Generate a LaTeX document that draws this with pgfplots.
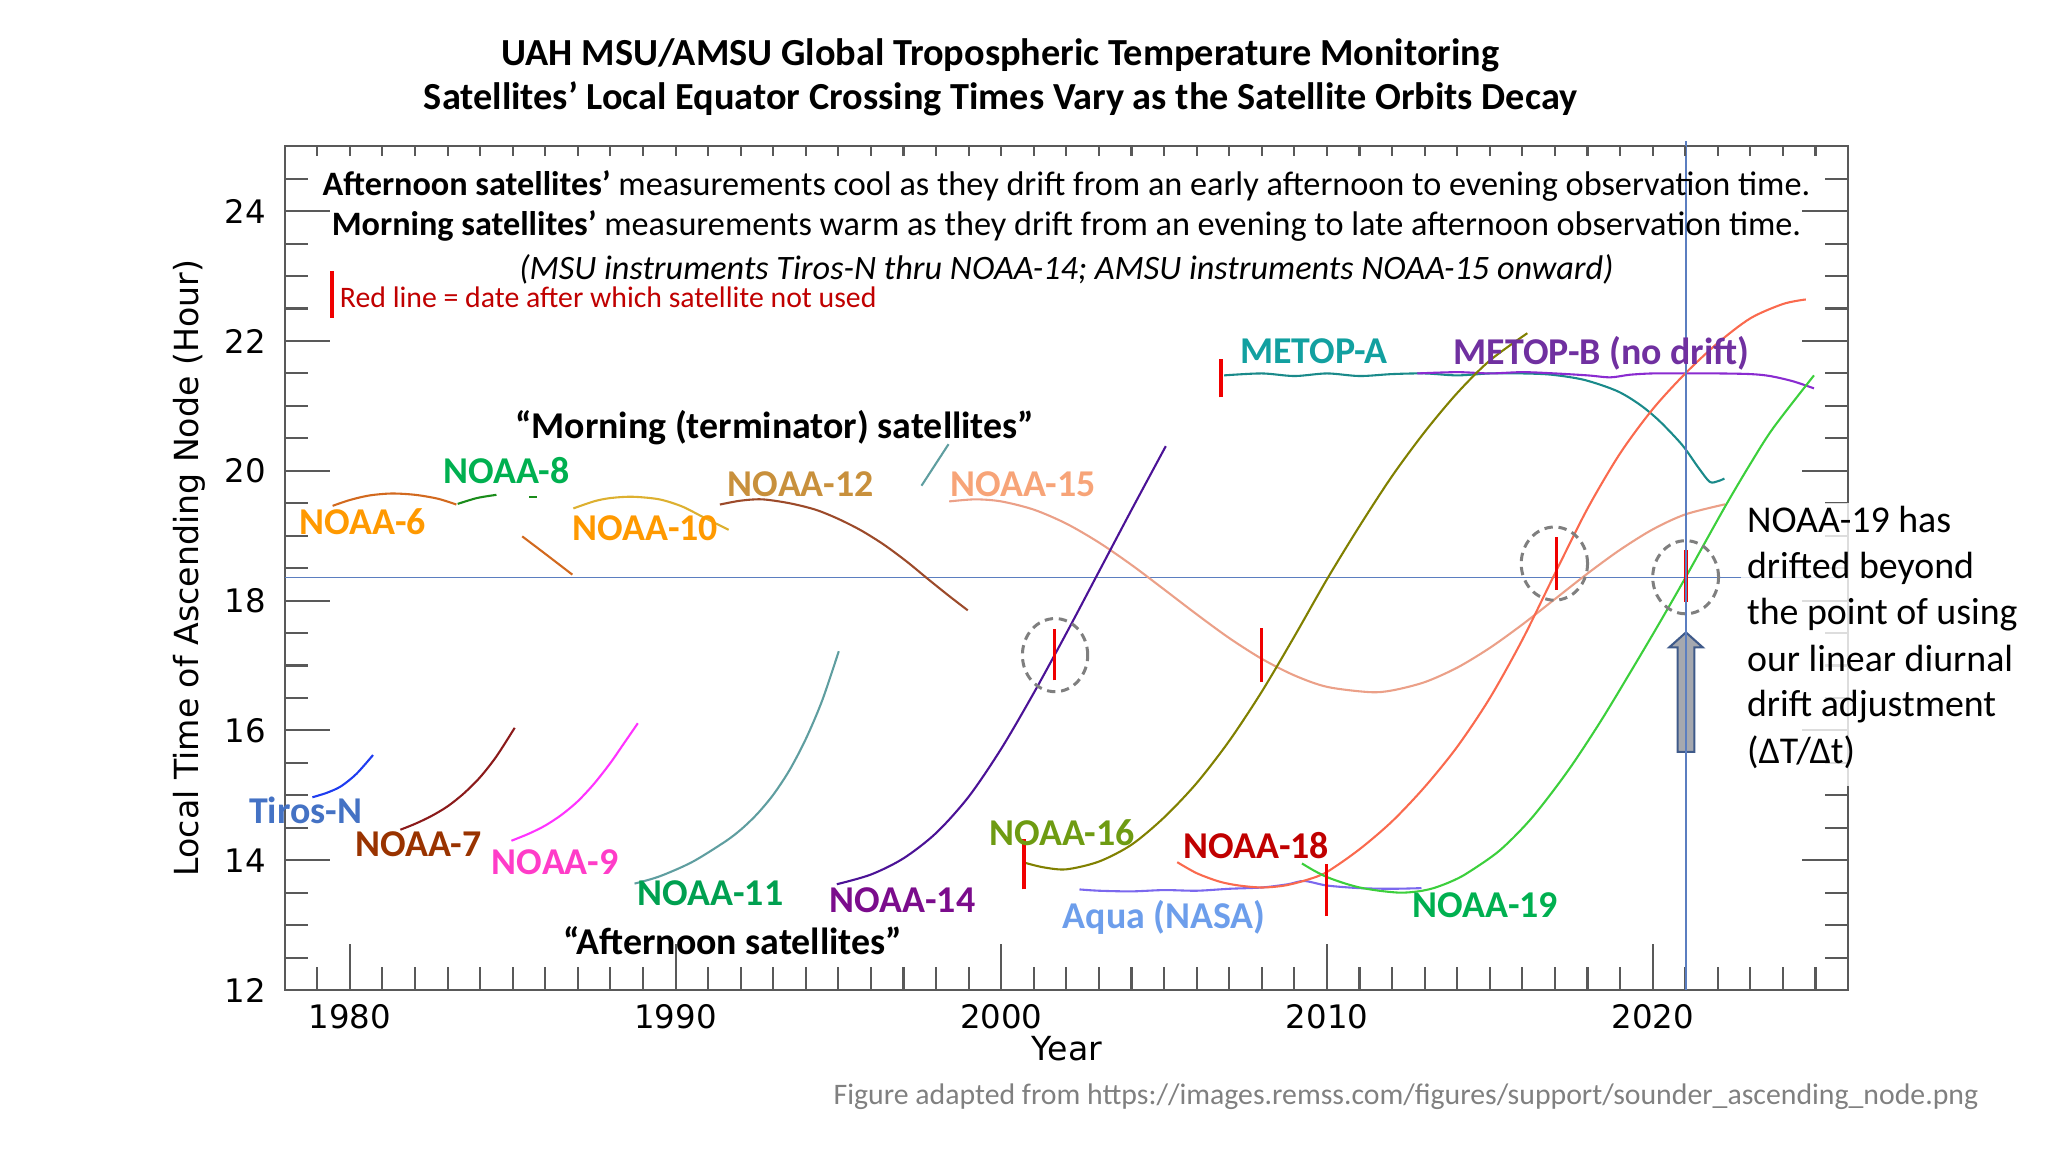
\documentclass[border=0pt]{standalone}
\usepackage{pgfplots}
\pgfplotsset{compat=1.18}
\usepackage{fontspec}
\setmainfont{Carlito}
\newfontfamily\dejavu{DejaVu Sans}
\definecolor{axisgray}{HTML}{595959}
\definecolor{refblue}{HTML}{5B7EC0}
\definecolor{tickred}{HTML}{F00000}
\definecolor{circgray}{HTML}{7F7F7F}
\definecolor{arrowfill}{HTML}{A5A8AF}
\definecolor{arrowline}{HTML}{3F5A8A}
\definecolor{cTiros}{HTML}{1E3CF0}\definecolor{lTiros}{HTML}{4472C4}
\definecolor{c7}{HTML}{8B1A1A}\definecolor{l7}{HTML}{993300}
\definecolor{c9}{HTML}{FF33FF}\definecolor{l9}{HTML}{FF3CC8}
\definecolor{c11}{HTML}{5F9EA0}\definecolor{l11}{HTML}{00A050}
\definecolor{c14}{HTML}{4B1296}\definecolor{l14}{HTML}{7B0C8C}
\definecolor{c16}{HTML}{808000}\definecolor{l16}{HTML}{6E9B12}
\definecolor{c18}{HTML}{FA6A4E}\definecolor{l18}{HTML}{C00000}
\definecolor{c19}{HTML}{3CCF3C}\definecolor{l19}{HTML}{00B050}
\definecolor{c15}{HTML}{EBA088}\definecolor{l15}{HTML}{F7A478}
\definecolor{c6}{HTML}{D2691E}\definecolor{l6}{HTML}{FF9900}
\definecolor{c8}{HTML}{1A8C1A}\definecolor{l8}{HTML}{00B050}
\definecolor{c10}{HTML}{DDB030}\definecolor{l10}{HTML}{FF9900}
\definecolor{c12}{HTML}{9C4A2A}\definecolor{l12}{HTML}{C8903C}
\definecolor{cMA}{HTML}{1A8A8A}\definecolor{lMA}{HTML}{12A0A0}
\definecolor{cMB}{HTML}{8A2BD0}\definecolor{lMB}{HTML}{7030A0}
\definecolor{cAqua}{HTML}{7B68EE}\definecolor{lAqua}{HTML}{6D9EEB}
\definecolor{darkred}{HTML}{C00000}
\definecolor{srcgray}{HTML}{808080}
\newcommand{\lbl}{\bfseries\fontsize{14.5}{17.7}\selectfont}
\newcommand{\txt}{\fontsize{14.5}{17.7}\selectfont}
\newcommand{\ann}{\fontsize{13.1}{15.5}\selectfont}
\begin{document}
\begin{tikzpicture}
\useasboundingbox (0,0) rectangle (784pt,441pt);
\begin{axis}[
  at={(109pt,62pt)}, anchor=south west,
  scale only axis, width=598.5pt, height=323pt,
  xmin=1978, xmax=2026, ymin=12, ymax=25,
  clip=false, no markers,
  axis line style={draw=axisgray, line width=0.8pt},
  xtick={1980,1990,2000,2010,2020},
  xticklabels={1980,1990,2000,2010,2020},
  minor xtick={1978,...,2026},
  ytick={12,14,16,18,20,22,24},
  yticklabels={12,14,16,18,20,22,24},
  minor ytick={12,12.5,...,25},
  xtick pos=left, ytick pos=both,
  tick align=inside,
  major tick length=17.5pt, minor tick length=9pt,
  tick style={draw=axisgray, line width=0.8pt},
  tick label style={font=\dejavu\fontsize{12.4}{14}\selectfont, text=black, inner sep=0pt},
  xticklabel style={anchor=north, yshift=-5.5pt},
  yticklabel style={anchor=east, xshift=-7pt},
  every axis plot/.append style={line width=0.8pt, line join=round},
]
% reference line
\addplot[refblue, line width=0.5pt] coordinates {(1978,18.36) (2026,18.36)};

% morning satellites
\addplot[c6, smooth] coordinates {(1979.47,19.46) (1980.0,19.55) (1980.6,19.62) (1981.28,19.65) (1982.0,19.63) (1982.7,19.57) (1983.27,19.48)};
\addplot[c8, smooth] coordinates {(1983.31,19.49) (1983.9,19.58) (1984.5,19.63)};
\addplot[c8] coordinates {(1985.5,19.6) (1985.75,19.6)};
\addplot[c6, smooth] coordinates {(1985.29,18.99) (1986.0,18.72) (1986.83,18.4)};
\addplot[c10, smooth] coordinates {(1986.86,19.42) (1987.5,19.53) (1988.0,19.58) (1988.68,19.6) (1989.5,19.56) (1990.2,19.45) (1990.87,19.28) (1991.63,19.09)};
\addplot[c12, smooth] coordinates {(1991.36,19.48) (1992.0,19.54) (1992.66,19.56) (1993.5,19.5) (1994.3,19.4) (1994.99,19.26) (1995.7,19.08) (1996.4,18.86) (1997.1,18.6) (1997.73,18.34) (1998.4,18.07) (1998.97,17.85)};
\addplot[c11] coordinates {(1997.55,19.77) (1998.38,20.41)};
\addplot[c15, smooth] coordinates {(1998.4,19.528) (1999.2,19.56) (2000.0,19.528) (2001.0,19.401) (2002.0,19.185) (2003.0,18.894) (2004.0,18.549) (2005.0,18.171) (2006.0,17.788) (2007.0,17.422) (2008.0,17.102) (2009.0,16.847) (2010.0,16.671) (2011.3,16.59) (2012.0,16.616) (2013.0,16.744) (2014.0,16.968) (2015.0,17.272) (2016.0,17.633) (2017.0,18.025) (2018.0,18.418) (2019.0,18.784) (2020.0,19.097) (2021.0,19.328) (2022.23,19.485)};
\addplot[cMA, smooth] coordinates {(2006.84,21.47) (2008,21.5) (2009,21.46) (2010,21.5) (2011,21.46) (2012,21.49) (2013,21.5) (2014,21.47) (2015,21.5) (2016,21.5) (2016.9,21.48) (2017.9,21.4) (2018.9,21.23) (2019.6,21.02) (2020.2,20.77) (2020.9,20.4) (2021.4,20.05) (2021.75,19.83) (2022.0,19.84) (2022.2,19.88)};
\addplot[cMB, smooth] coordinates {(2012.77,21.5) (2014,21.52) (2015,21.5) (2016,21.52) (2017,21.5) (2018,21.47) (2018.7,21.44) (2019.3,21.48) (2020,21.5) (2021,21.5) (2022,21.5) (2023,21.49) (2023.6,21.46) (2024.3,21.38) (2024.95,21.27)};

% afternoon satellites
\addplot[cTiros, smooth] coordinates {(1978.85,14.97) (1979.3,15.04) (1979.73,15.14) (1980.2,15.33) (1980.71,15.62)};
\addplot[c7, smooth] coordinates {(1981.55,14.47) (1982.0,14.56) (1982.5,14.68) (1983.0,14.83) (1983.5,15.03) (1984.0,15.28) (1984.5,15.6) (1985.06,16.04)};
\addplot[c9, smooth] coordinates {(1984.96,14.3) (1985.5,14.41) (1986.0,14.535) (1986.5,14.7) (1987.0,14.91) (1987.5,15.18) (1988.0,15.5) (1988.4,15.79) (1988.84,16.11)};
\addplot[c11, smooth] coordinates {(1988.74,13.64) (1989.5,13.75) (1990.5,13.97) (1991.5,14.28) (1992.0,14.47) (1992.5,14.71) (1993.0,15.01) (1993.5,15.39) (1994.0,15.87) (1994.5,16.46) (1995.01,17.22)};
\addplot[c14, smooth] coordinates {(1994.95,13.63) (1996,13.78) (1997,14.03) (1998,14.42) (1999,14.98) (2000,15.72) (2001,16.58) (2002,17.5) (2003,18.45) (2004,19.4) (2005.05,20.38)};
\addplot[c16, smooth] coordinates {(2000.73,13.96) (2001.3,13.89) (2002.0,13.86) (2003.0,13.98) (2004.0,14.24) (2005.0,14.66) (2006.0,15.19) (2007.0,15.84) (2008.0,16.6) (2009.0,17.45) (2010.0,18.33) (2011.0,19.15) (2012.0,19.92) (2013.0,20.6) (2014.0,21.2) (2015.0,21.7) (2016.15,22.12)};
\addplot[cAqua, smooth] coordinates {(2002.4,13.55) (2003,13.53) (2004,13.52) (2005,13.54) (2006,13.53) (2007,13.56) (2008,13.58) (2008.8,13.63) (2009.3,13.68) (2010,13.61) (2011,13.57) (2012,13.56) (2012.9,13.57)};
\addplot[c18, smooth] coordinates {(2005.4,13.97) (2006.0,13.8) (2006.7,13.67) (2007.3,13.61) (2008.0,13.58) (2008.7,13.61) (2009.4,13.7) (2010.0,13.82) (2011.0,14.17) (2012.0,14.6) (2013.0,15.13) (2014.0,15.75) (2015.0,16.5) (2016.0,17.4) (2017.0,18.42) (2018.0,19.42) (2019.0,20.27) (2020.0,20.95) (2021.0,21.5) (2022.0,21.97) (2023.0,22.35) (2024.0,22.57) (2024.7,22.64)};
\addplot[c19, smooth] coordinates {(2009.23,13.95) (2009.6,13.84) (2010.0,13.74) (2010.5,13.65) (2011.0,13.58) (2011.6,13.53) (2012.25,13.5) (2012.8,13.52) (2013.27,13.57) (2013.8,13.67) (2014.3,13.8) (2015.3,14.15) (2016.3,14.66) (2017.4,15.38) (2018.4,16.14) (2019.4,16.97) (2020.2,17.65) (2021.0,18.35) (2022.2,19.43) (2023.0,20.11) (2023.7,20.66) (2024.95,21.47)};

% red "not used" markers
\addplot[tickred, line width=1.3pt] coordinates {(1979.45,22.36) (1979.45,23.08)};
\addplot[tickred, line width=1.3pt] coordinates {(2001.63,16.77) (2001.63,17.57)};
\addplot[tickred, line width=1.3pt] coordinates {(2007.98,16.75) (2007.98,17.58)};
\addplot[tickred, line width=1.3pt] coordinates {(2006.75,21.13) (2006.75,21.73)};
\addplot[tickred, line width=1.3pt] coordinates {(2000.7,13.55) (2000.7,14.32)};
\addplot[tickred, line width=1.3pt] coordinates {(2009.98,13.14) (2009.98,13.94)};
\addplot[tickred, line width=1.3pt] coordinates {(2017.04,18.17) (2017.04,18.98)};
\addplot[tickred, line width=1.3pt] coordinates {(2021.02,17.98) (2021.02,18.78)};

% dashed circles
\draw[circgray, line width=1.15pt, dash pattern=on 3.2pt off 2.2pt] (axis cs:2001.65,17.16) ellipse [x radius=12.5pt, y radius=14pt];
\draw[circgray, line width=1.15pt, dash pattern=on 3.2pt off 2.2pt] (axis cs:2016.98,18.57) ellipse [x radius=12.7pt, y radius=14pt];
\draw[circgray, line width=1.15pt, dash pattern=on 3.2pt off 2.2pt] (axis cs:2021.01,18.36) ellipse [x radius=12.6pt, y radius=14pt];

% arrow
\draw[draw=arrowline, fill=arrowfill, line width=0.8pt, line join=miter]
  ([xshift=-3.2pt]axis cs:2021.02,15.67) -- ([xshift=-3.2pt]axis cs:2021.02,17.28)
  -- ([xshift=-6.4pt]axis cs:2021.02,17.28) -- (axis cs:2021.02,17.51)
  -- ([xshift=6.4pt]axis cs:2021.02,17.28) -- ([xshift=3.2pt]axis cs:2021.02,17.28)
  -- ([xshift=3.2pt]axis cs:2021.02,15.67) -- cycle;
\addplot[refblue, line width=0.5pt] coordinates {(2021.02,12) (2021.02,25.08)};

% satellite labels
\node[font=\lbl, text=l6] at (axis cs:1980.4,19.22) {NOAA-6};
\node[font=\lbl, text=l8] at (axis cs:1984.81,20.0) {NOAA-8};
\node[font=\lbl, text=l10] at (axis cs:1989.07,19.12) {NOAA-10};
\node[font=\lbl, text=l12] at (axis cs:1993.84,19.8) {NOAA-12};
\node[font=\lbl, text=l15] at (axis cs:2000.66,19.8) {NOAA-15};
\node[font=\lbl, text=lTiros] at (axis cs:1978.64,14.77) {Tiros-N};
\node[font=\lbl, text=l7] at (axis cs:1982.1,14.25) {NOAA-7};
\node[font=\lbl, text=l9] at (axis cs:1986.3,13.97) {NOAA-9};
\node[font=\lbl, text=l11] at (axis cs:1991.07,13.49) {NOAA-11};
\node[font=\lbl, text=l14] at (axis cs:1996.97,13.39) {NOAA-14};
\node[font=\lbl, text=l16] at (axis cs:2001.86,14.43) {NOAA-16};
\node[font=\lbl, text=l18] at (axis cs:2007.83,14.23) {NOAA-18};
\node[font=\lbl, text=lAqua] at (axis cs:2005.0,13.12) {Aqua (NASA)};
\node[font=\lbl, text=l19] at (axis cs:2014.86,13.31) {NOAA-19};
\node[font=\lbl, text=lMA] at (axis cs:2009.6,21.85) {METOP-A};
\node[font=\lbl, text=lMB] at (axis cs:2018.43,21.81) {METOP-B (no drift)};
\node[font=\lbl] at (axis cs:1993.04,20.66) {“Morning (terminator) satellites”};
\node[font=\lbl] at (axis cs:1991.75,12.76) {“Afternoon satellites”};

% explanatory text
\node[font=\ann, anchor=base, inner sep=0pt] at (axis cs:2002.0,24.235) {\textbf{Afternoon satellites’} measurements cool as they drift from an early afternoon to evening observation time.};
\node[font=\ann, anchor=base, inner sep=0pt] at (axis cs:2002.0,23.618) {\textbf{Morning satellites’} measurements warm as they drift from an evening to late afternoon observation time.};
\node[font=\ann\itshape, anchor=base, inner sep=0pt] at (axis cs:2002.0,22.955) {(MSU instruments Tiros-N thru NOAA-14; AMSU instruments NOAA-15 onward)};
\node[font=\fontsize{11.4}{13.5}\selectfont, text=darkred, anchor=base west, inner sep=0pt] at (axis cs:1979.68,22.516) {Red line = date after which satellite not used};

% NOAA-19 note
\fill[white, opacity=0.8] (axis cs:2022.7,15.15) rectangle (axis cs:2030.3,19.5);
\node[font=\txt, anchor=base west, inner sep=0pt] at (axis cs:2022.88,19.046) {NOAA-19 has};
\node[font=\txt, anchor=base west, inner sep=0pt] at (axis cs:2022.88,18.338) {drifted beyond};
\node[font=\txt, anchor=base west, inner sep=0pt] at (axis cs:2022.88,17.634) {the point of using};
\node[font=\txt, anchor=base west, inner sep=0pt] at (axis cs:2022.88,16.91) {our linear diurnal};
\node[font=\txt, anchor=base west, inner sep=0pt] at (axis cs:2022.88,16.207) {drift adjustment};
\node[font=\txt, anchor=base west, inner sep=0pt] at (axis cs:2022.88,15.483) {(ΔT/Δt)};
\end{axis}
% top ticks
\begin{axis}[
  at={(109pt,62pt)}, anchor=south west,
  scale only axis, width=598.5pt, height=323pt,
  xmin=1978, xmax=2026, ymin=12, ymax=25,
  axis line style={draw=none},
  xtick={1979,...,2025}, xticklabels={},
  ytick=\empty,
  xtick pos=right, tick align=inside,
  major tick length=3.6pt,
  tick style={draw=axisgray, line width=0.8pt},
]
\end{axis}
% titles and axis labels
\node[font=\bfseries\fontsize{14.65}{17}\selectfont, anchor=base, inner sep=0pt] at (383pt,416.1pt) {UAH MSU/AMSU Global Tropospheric Temperature Monitoring};
\node[font=\bfseries\fontsize{14.65}{17}\selectfont, anchor=base, inner sep=0pt] at (383pt,398.9pt) {Satellites’ Local Equator Crossing Times Vary as the Satellite Orbits Decay};
\node[font=\dejavu\fontsize{12.7}{15}\selectfont, inner sep=0pt] at (408.5pt,39.5pt) {Year};
\node[font=\dejavu\fontsize{12.7}{15}\selectfont, inner sep=0pt, rotate=90] at (72.5pt,223.5pt) {Local Time of Ascending Node (Hour)};
\node[font=\fontsize{11.4}{13.5}\selectfont, text=srcgray, anchor=east, inner sep=0pt] at (757.5pt,21pt) {Figure adapted from https://images.remss.com/figures/support/sounder\_ascending\_node.png};
\end{tikzpicture}
\end{document}
